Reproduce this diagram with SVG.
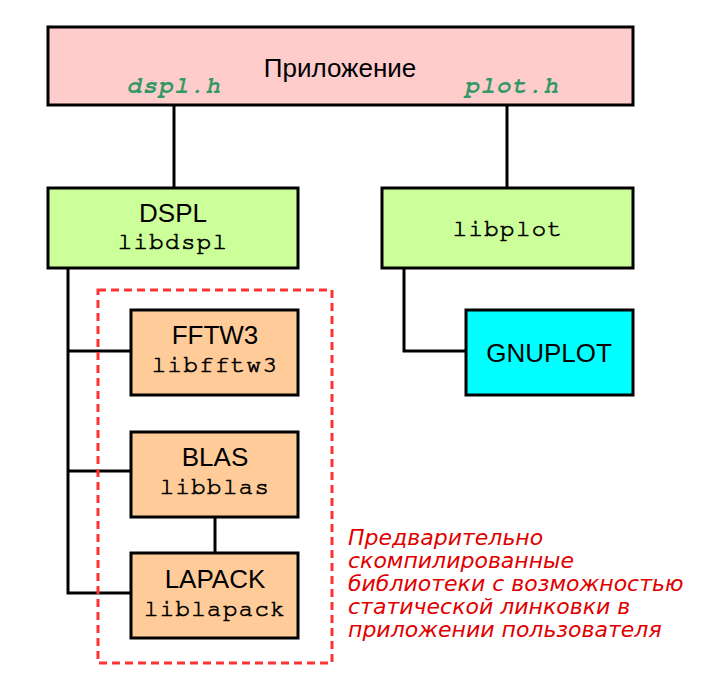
<svg xmlns="http://www.w3.org/2000/svg" width="713" height="693" viewBox="0 0 713 693">
<style>
.box{stroke:#000;stroke-width:3}
.sans{font-family:"Liberation Sans",Arial,sans-serif;font-size:26px;fill:#000;text-anchor:middle}
.mono{font-family:"Nimbus Mono PS","FreeMono","Courier New","Liberation Mono",monospace;font-size:24px;fill:#000;stroke:#000;stroke-width:0.7px;text-anchor:middle;letter-spacing:1.4px}
.hdr{font-family:"Nimbus Mono PS","FreeMono","Courier New","Liberation Mono",monospace;font-size:24px;font-weight:bold;font-style:italic;fill:#339966;text-anchor:middle;letter-spacing:1.4px}
.note{font-family:"DejaVu Sans",sans-serif;font-style:italic;font-size:22px;fill:#e00000}
.wire{stroke:#000;stroke-width:3;fill:none}
</style>
<rect width="713" height="693" fill="#fff"/>
<g id="connectors">
<line class="wire" x1="174" y1="105" x2="174" y2="188"/>
<line class="wire" x1="507" y1="105" x2="507" y2="188"/>
<polyline class="wire" points="68,268 68,593 131,593"/>
<line class="wire" x1="68" y1="351" x2="131" y2="351"/>
<line class="wire" x1="68" y1="471" x2="131" y2="471"/>
<line class="wire" x1="215" y1="517" x2="215" y2="553"/>
<polyline class="wire" points="404,268 404,351 466,351"/>
</g>
<g id="group-static">
<rect x="98" y="290" width="234" height="373" fill="none" stroke="#ff3333" stroke-width="3" stroke-dasharray="8,5"/>
<text class="note"><tspan x="348" y="545">Предварительно</tspan><tspan x="348" y="568">скомпилированные</tspan><tspan x="348" y="591">библиотеки с возможностью</tspan><tspan x="348" y="614">статической линковки в</tspan><tspan x="348" y="637">приложении пользователя</tspan></text>
</g>
<g id="app">
<rect class="box" x="48" y="27" width="585" height="78" fill="#ffcccc"/>
<text class="sans" x="340" y="77">Приложение</text>
<text class="hdr" x="174" y="93">dspl.h</text>
<text class="hdr" x="512" y="93">plot.h</text>
</g>
<g id="dspl">
<rect class="box" x="48" y="188" width="250" height="80" fill="#ccff99"/>
<text class="sans" x="173" y="222">DSPL</text>
<text class="mono" x="173" y="249">libdspl</text>
</g>
<g id="libplot">
<rect class="box" x="382" y="188" width="251" height="80" fill="#ccff99"/>
<text class="mono" x="508" y="236">libplot</text>
</g>
<g id="fftw3">
<rect class="box" x="131" y="310" width="167" height="85" fill="#ffcc99"/>
<text class="sans" x="215" y="344">FFTW3</text>
<text class="mono" x="215" y="372">libfftw3</text>
</g>
<g id="blas">
<rect class="box" x="131" y="432" width="167" height="85" fill="#ffcc99"/>
<text class="sans" x="215" y="466">BLAS</text>
<text class="mono" x="215" y="494">libblas</text>
</g>
<g id="lapack">
<rect class="box" x="131" y="553" width="167" height="85" fill="#ffcc99"/>
<text class="sans" x="215" y="588">LAPACK</text>
<text class="mono" x="215" y="616">liblapack</text>
</g>
<g id="gnuplot">
<rect class="box" x="466" y="310" width="167" height="85" fill="#00ffff"/>
<text class="sans" x="549" y="362">GNUPLOT</text>
</g>
</svg>
